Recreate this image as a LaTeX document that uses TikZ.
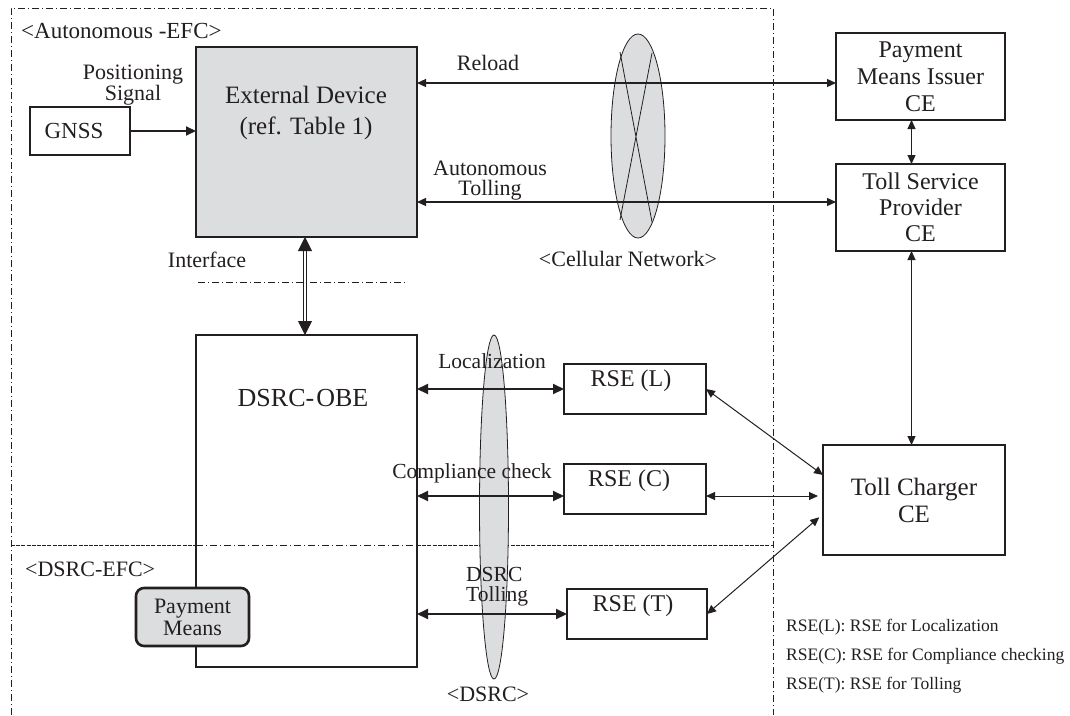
\documentclass[tikz,border=0pt]{standalone}
\usepackage{fontspec}
\setmainfont{Liberation Serif}
\usetikzlibrary{arrows.meta}
\definecolor{ink}{RGB}{35,31,32}
\definecolor{fillg}{RGB}{220,221,223}
\newcommand\fsz[2]{\fontsize{#1}{#2}\selectfont}
\begin{document}
\begin{tikzpicture}[x=1pt,y=-1pt,
  frame/.style={ink, line width=0.8pt, dash pattern=on 7pt off 3pt on 1pt off 3pt},
  fine/.style={ink, line width=0.7pt, dash pattern=on 4pt off 1.2pt},
  box/.style={draw=ink, line width=1.1pt, inner sep=0pt, outer sep=0pt, anchor=north west},
  heavybox/.style={box, line width=2.2pt},
  lbl/.style={text=ink, inner sep=0pt, align=center, font=\fsz{22}{20}},
  link/.style={ink, line width=1.2pt, {Triangle[length=9pt,width=8pt]}-{Triangle[length=9pt,width=8pt]}},
  boldlink/.style={ink, line width=2pt, {Triangle[length=11pt,width=10pt]}-{Triangle[length=11pt,width=10pt]}}
]
\useasboundingbox (0,0) rectangle (1070,715);
\fill[white] (0,0) rectangle (1070,715);

% frames
\draw[frame] (11,715) -- (11,8) -- (773,8) -- (773,715);
\draw[fine] (11,545) -- (196,545);
\draw[frame] (196,545) -- (417,545);
\draw[fine] (417,545) -- (773,545);
\draw[frame] (198,282) -- (405,282);

% ellipses
\draw[ink, line width=0.8pt, fill=fillg] (638,136) ellipse [x radius=27, y radius=102];
\draw[ink, line width=0.8pt] (620,52) -- (652,222) (652,53) -- (620,220);
\draw[ink, line width=0.8pt, fill=fillg] (494,507) ellipse [x radius=14.5, y radius=172];

% boxes
\node[box, line width=2.6pt, minimum width=100pt, minimum height=48pt] (gnss) at (30,107) {};
\node[heavybox, fill=fillg, minimum width=221pt, minimum height=190pt] (ext) at (196,47) {};
\node[heavybox, line width=2pt, minimum width=221pt, minimum height=332pt] (obe) at (196,335) {};
\node[box, line width=2.6pt, fill=fillg, rounded corners=8pt, minimum width=113pt, minimum height=58pt] (pm) at (136,588) {};
\node[box, minimum width=169pt, minimum height=87pt, lbl, font=\fsz{24}{27}] (pmi) at (836,33) {Payment\\Means Issuer\\CE};
\node[box, minimum width=169pt, minimum height=87pt, lbl, font=\fsz{24}{26}] (tsp) at (836,164) {Toll Service\\Provider\\CE};
\node[box, minimum width=182pt, minimum height=110pt, lbl, font=\fsz{25}{27}] (tc) at (823,445) {Toll Charger\\CE};
\node[box, minimum width=142pt, minimum height=50pt] (rseL) at (564,364) {};
\node[box, minimum width=142pt, minimum height=50pt] (rseC) at (564,464) {};
\node[box, minimum width=140pt, minimum height=50pt] (rseT) at (567,589) {};

% box texts
\node[lbl, font=\fsz{23}{20}] at (74,131) {GNSS};
\node[lbl, font=\fsz{25}{31}] at (306,113) {External Device\\(ref. Table 1)};
\node[lbl, font=\fsz{26}{30}] at (303,398) {DSRC-\hspace{2pt}OBE};
\node[lbl, font=\fsz{22}{22}] at (pm.center) {Payment\\Means};
\node[lbl, font=\fsz{24}{26}] at (631,381) {RSE (L)};
\node[lbl, font=\fsz{24}{26}] at (629,481) {RSE (C)};
\node[lbl, font=\fsz{24}{26}] at (633,606) {RSE (T)};

% labels
\node[lbl, anchor=base west, font=\fsz{23}{26}] at (21,38) {<Autonomous -EFC>};
\node[lbl] at (133,85) {Positioning\\Signal};
\node[lbl] at (207,260) {Interface};
\node[lbl] at (488,63) {Reload};
\node[lbl] at (490,181) {Autonomous\\Tolling};
\node[lbl] at (628,259) {<Cellular Network>};
\node[lbl, font=\fsz{21.5}{20}] at (492,361) {Localization};
\node[lbl, font=\fsz{21.5}{20}] at (472,473) {Compliance check};
\node[lbl, align=left, anchor=west, font=\fsz{21.5}{20}] at (466,587) {DSRC\\Tolling};
\node[lbl] at (488,694) {<DSRC>};
\node[lbl, anchor=base west] at (25,576) {<DSRC-EFC>};
\node[lbl, align=left, anchor=west, font=\fsz{17.5}{29}] at (786,656) {RSE(L): RSE for Localization\\RSE(C): RSE for Compliance checking\\RSE(T): RSE for Tolling};

% level coordinates
\coordinate (yReload) at (0,83);
\coordinate (yAuto) at (0,202);
\coordinate (yLoc) at (0,389);
\coordinate (yComp) at (0,496);
\coordinate (yTol) at (0,614);
\coordinate (xv) at (911.5,0);
\coordinate (xd) at (305,0);
\coordinate (c1) at (0,475);
\coordinate (c3) at (0,514);

% connectors
\draw[ink, line width=2pt, -{Triangle[length=10pt,width=9pt]}] (gnss.east) -- (ext.west |- gnss.east);
\draw[link] (ext.east |- yReload) -- (pmi.west |- yReload);
\draw[link] (ext.east |- yAuto) -- (tsp.west |- yAuto);
\draw[link] (pmi.south -| xv) -- (tsp.north -| xv);
\draw[link] (tsp.south -| xv) -- (tc.north -| xv);
\draw[ink, line width=0.9pt, double distance=2.4pt, {Triangle[length=14pt,width=14pt]}-{Triangle[length=14pt,width=14pt]}] (ext.south -| xd) -- (obe.north -| xd);
\draw[boldlink] (obe.east |- yLoc) -- (rseL.west |- yLoc);
\draw[boldlink] (obe.east |- yComp) -- (rseC.west |- yComp);
\draw[boldlink] (obe.east |- yTol) -- (rseT.west |- yTol);
\draw[link, line width=1pt] (rseL.east) -- (tc.west |- c1);
\draw[link, line width=1pt, shorten >=5pt] (rseC.east |- yComp) -- (tc.west |- yComp);
\draw[link, line width=1pt, shorten >=5pt] (rseT.east |- yTol) -- (tc.west |- c3);
\end{tikzpicture}
\end{document}
